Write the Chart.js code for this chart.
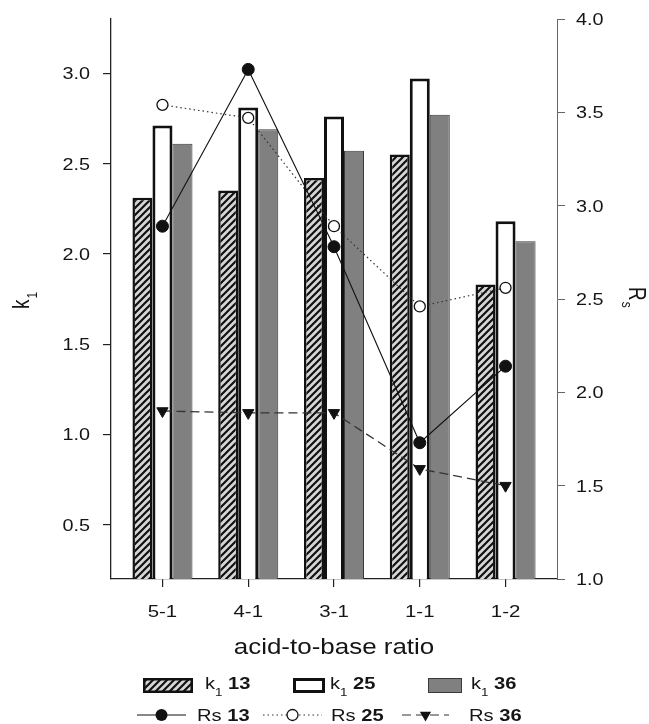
<!DOCTYPE html>
<html><head><meta charset="utf-8">
<script src="https://cdn.jsdelivr.net/npm/chart.js@4/dist/chart.umd.min.js"></script>
<style>html,body{margin:0;padding:0;background:#fff;}canvas{display:block;}</style>
</head><body>
<canvas id="c" width="649" height="724"></canvas>
<script>
const categories = ['5-1', '4-1', '3-1', '1-1', '1-2'];
const k1_13 = [2.31, 2.35, 2.42, 2.55, 1.83];
const k1_25 = [2.71, 2.81, 2.76, 2.97, 2.18];
const k1_36 = [2.61, 2.69, 2.57, 2.77, 2.07];
const rs_13 = [2.89, 3.73, 2.78, 1.73, 2.14];
const rs_25 = [3.54, 3.47, 2.89, 2.46, 2.56];
const rs_36 = [1.90, 1.89, 1.89, 1.59, 1.50];
const leftTicks = [0.5, 1.0, 1.5, 2.0, 2.5, 3.0];
const rightTicks = [1.0, 1.5, 2.0, 2.5, 3.0, 3.5, 4.0];

const FONT = '"Liberation Sans", Arial, sans-serif';
const SX = 1.2;
const TXT = '#151515';

function makeHatch() {
  const s = 7;
  const c = document.createElement('canvas');
  c.width = s; c.height = s;
  const g = c.getContext('2d');
  g.fillStyle = '#d6d6d6';
  g.fillRect(0, 0, s, s);
  g.strokeStyle = '#111';
  g.lineWidth = 2.2;
  g.beginPath();
  g.moveTo(-1, s + 1); g.lineTo(s + 1, -1);
  g.moveTo(-1, 1); g.lineTo(1, -1);
  g.moveTo(s - 1, s + 1); g.lineTo(s + 1, s - 1);
  g.stroke();
  return g.createPattern(c, 'repeat');
}
const ctx0 = document.getElementById('c').getContext('2d');
const hatchFill = makeHatch();

const pts = arr => arr.map((v, i) => ({x: i, y: v}));

const styles = {
  b13: {bg: hatchFill, border: '#111', bw: 2.5},
  b25: {bg: '#ffffff', border: '#111', bw: 3},
  b36: {bg: '#808080', border: '#3a3a3a', bw: 1}
};

function drawRich(ctx, parts, x, y) {
  let cx = x;
  for (const p of parts) {
    const sx = p.sx || SX;
    ctx.font = (p.bold ? 'bold ' : '') + p.size + 'px ' + FONT;
    ctx.save();
    ctx.translate(cx, y + (p.dy || 0));
    ctx.scale(sx, 1);
    ctx.textAlign = 'left';
    ctx.textBaseline = 'alphabetic';
    ctx.fillText(p.t, 0, 0);
    ctx.restore();
    cx += ctx.measureText(p.t).width * sx;
  }
  return cx;
}
function textW(ctx, t, size, bold, sx) {
  ctx.font = (bold ? 'bold ' : '') + size + 'px ' + FONT;
  return ctx.measureText(t).width * (sx || SX);
}

function marker(ctx, type, x, y) {
  ctx.save();
  ctx.setLineDash([]);
  ctx.lineWidth = 1.3;
  ctx.strokeStyle = '#111';
  if (type === 'filled') {
    ctx.fillStyle = '#111';
    ctx.beginPath(); ctx.arc(x, y, 6, 0, Math.PI * 2); ctx.fill();
  } else if (type === 'open') {
    ctx.fillStyle = '#fff';
    ctx.beginPath(); ctx.arc(x, y, 5.5, 0, Math.PI * 2); ctx.fill(); ctx.stroke();
  } else {
    ctx.fillStyle = '#111';
    const r = 6.5;
    ctx.beginPath();
    ctx.moveTo(x, y + r);
    ctx.lineTo(x - r * Math.sqrt(3) / 2, y - r / 2);
    ctx.lineTo(x + r * Math.sqrt(3) / 2, y - r / 2);
    ctx.closePath(); ctx.fill();
  }
  ctx.restore();
}

const textPlugin = {
  id: 'texts',
  afterDraw(chart) {
    const ctx = chart.ctx;
    const {x, y, y1} = chart.scales;
    ctx.save();
    ctx.fillStyle = TXT;
    for (const t of y.ticks) {
      const py = y.getPixelForValue(t.value);
      const s = t.value.toFixed(1);
      const w = textW(ctx, s, 16.5, false);
      drawRich(ctx, [{t: s, size: 16.5}], 90 - w, py + 6);
    }
    for (const t of y1.ticks) {
      const py = y1.getPixelForValue(t.value);
      drawRich(ctx, [{t: t.value.toFixed(1), size: 16.5}], 576, py + 6);
    }
    for (const t of x.ticks) {
      const px = x.getPixelForValue(t.value);
      const s = categories[t.value];
      const w = textW(ctx, s, 17, false);
      drawRich(ctx, [{t: s, size: 17}], px - w / 2, 617);
    }
    const title = 'acid-to-base ratio';
    const tw = textW(ctx, title, 22, false, 1.18);
    drawRich(ctx, [{t: title, size: 22, sx: 1.18}], (x.left + x.right) / 2 - tw / 2, 654);

    ctx.save();
    ctx.translate(29, 309);
    ctx.rotate(-Math.PI / 2);
    ctx.scale(1, 1.25);
    ctx.font = '19px ' + FONT;
    ctx.textAlign = 'left'; ctx.textBaseline = 'alphabetic';
    ctx.fillText('k', 0, 0);
    const kw = ctx.measureText('k').width;
    ctx.font = '12px ' + FONT;
    ctx.fillText('1', kw + 1, 6);
    ctx.restore();

    ctx.save();
    ctx.translate(629, 287);
    ctx.rotate(Math.PI / 2);
    ctx.scale(1, 1.25);
    ctx.font = '19px ' + FONT;
    ctx.textAlign = 'left'; ctx.textBaseline = 'alphabetic';
    ctx.fillText('R', 0, 0);
    const rw = ctx.measureText('R').width;
    ctx.font = '12px ' + FONT;
    ctx.fillText('s', rw + 1, 6);
    ctx.restore();

    const boxY = 678, boxH = 15;
    const boxes = [
      {st: styles.b13, x: 143, w: 50, tx: 205, lab: '13'},
      {st: styles.b25, x: 293, w: 32, tx: 330, lab: '25'},
      {st: styles.b36, x: 428, w: 34, tx: 471, lab: '36'}
    ];
    for (const b of boxes) {
      ctx.save();
      ctx.fillStyle = b.st.bg;
      ctx.fillRect(b.x, boxY, b.w, boxH);
      ctx.strokeStyle = b.st.border;
      ctx.lineWidth = b.st.bw;
      const h = b.st.bw / 2;
      ctx.strokeRect(b.x + h, boxY + h, b.w - b.st.bw, boxH - b.st.bw);
      ctx.restore();
      ctx.fillStyle = TXT;
      drawRich(ctx, [
        {t: 'k', size: 16.5, sx: 1.22},
        {t: '1', size: 11, dy: 7, sx: 1.22},
        {t: ' ', size: 16.5, sx: 1.22},
        {t: b.lab, size: 16.5, bold: true, sx: 1.22}
      ], b.tx, 689);
    }
    const ly = 715;
    const lines = [
      {x0: 137, x1: 186, mk: 'filled', dash: [], col: '#111', tx: 197, lab: '13'},
      {x0: 263, x1: 322, mk: 'open', dash: [1.5, 3], col: '#333', tx: 331, lab: '25'},
      {x0: 402, x1: 449, mk: 'tri', dash: [9, 5], col: '#333', tx: 469, lab: '36'}
    ];
    for (const l of lines) {
      ctx.save();
      ctx.strokeStyle = l.col;
      ctx.lineWidth = 1.2;
      ctx.setLineDash(l.dash);
      ctx.beginPath(); ctx.moveTo(l.x0, ly); ctx.lineTo(l.x1, ly); ctx.stroke();
      ctx.restore();
      marker(ctx, l.mk, (l.x0 + l.x1) / 2, ly);
      ctx.fillStyle = TXT;
      drawRich(ctx, [
        {t: 'Rs ', size: 16.5, sx: 1.22},
        {t: l.lab, size: 16.5, bold: true, sx: 1.22}
      ], l.tx, 721);
    }
    ctx.restore();
  }
};

new Chart(ctx0, {
  data: {
    datasets: [
      {type: 'bar', label: 'k1 13', data: pts(k1_13), backgroundColor: styles.b13.bg, borderColor: styles.b13.border, borderWidth: styles.b13.bw, yAxisID: 'y', order: 1},
      {type: 'bar', label: 'k1 25', data: pts(k1_25), backgroundColor: styles.b25.bg, borderColor: styles.b25.border, borderWidth: styles.b25.bw, yAxisID: 'y', order: 1},
      {type: 'bar', label: 'k1 36', data: pts(k1_36), backgroundColor: styles.b36.bg, borderColor: styles.b36.border, borderWidth: styles.b36.bw, yAxisID: 'y', order: 1},
      {type: 'line', label: 'Rs 13', data: pts(rs_13), borderColor: '#111', borderWidth: 1.1, pointRadius: 6, pointBackgroundColor: '#111', pointBorderColor: '#111', pointBorderWidth: 1, tension: 0, fill: false, yAxisID: 'y1', order: 0},
      {type: 'line', label: 'Rs 25', data: pts(rs_25), borderColor: '#333', borderWidth: 1.2, borderDash: [1.5, 3], pointRadius: 5.5, pointBackgroundColor: '#fff', pointBorderColor: '#111', pointBorderWidth: 1.3, tension: 0, fill: false, yAxisID: 'y1', order: 0},
      {type: 'line', label: 'Rs 36', data: pts(rs_36), borderColor: '#333', borderWidth: 1.3, borderDash: [9, 5], pointStyle: 'triangle', pointRotation: 180, pointRadius: 6.5, pointBackgroundColor: '#111', pointBorderColor: '#111', pointBorderWidth: 1, tension: 0, fill: false, yAxisID: 'y1', order: 0}
    ]
  },
  options: {
    responsive: false,
    animation: false,
    devicePixelRatio: 1,
    layout: {padding: {left: 0, right: 0, top: 19, bottom: 0}},
    datasets: {bar: {categoryPercentage: 0.70, barPercentage: 1.0, grouped: true}},
    plugins: {legend: {display: false}, tooltip: {enabled: false}},
    scales: {
      x: {
        type: 'linear', position: 'bottom', min: -0.6, max: 4.6, offset: false,
        afterBuildTicks: s => { s.ticks = categories.map((c, i) => ({value: i})); },
        ticks: {display: false},
        grid: {drawOnChartArea: false, drawTicks: true, tickLength: 8, color: '#222', lineWidth: 1.2, offset: false},
        border: {display: true, color: '#222', width: 1.3},
        afterFit: s => { s.height = 145; }
      },
      y: {
        type: 'linear', position: 'left', min: 0.2, max: 3.3,
        afterBuildTicks: s => { s.ticks = leftTicks.map(v => ({value: v})); },
        ticks: {display: false},
        grid: {drawOnChartArea: false, drawTicks: true, tickLength: 8, color: '#222', lineWidth: 1.2},
        border: {display: true, color: '#222', width: 1.3},
        afterFit: s => { s.width = 111; }
      },
      y1: {
        type: 'linear', position: 'right', min: 1.0, max: 4.0,
        afterBuildTicks: s => { s.ticks = rightTicks.map(v => ({value: v})); },
        ticks: {display: false},
        grid: {drawOnChartArea: false, drawTicks: true, tickLength: 8, color: '#666', lineWidth: 1},
        border: {display: true, color: '#666', width: 1},
        afterFit: s => { s.width = 92; }
      }
    }
  },
  plugins: [textPlugin]
});
</script>
</body></html>
